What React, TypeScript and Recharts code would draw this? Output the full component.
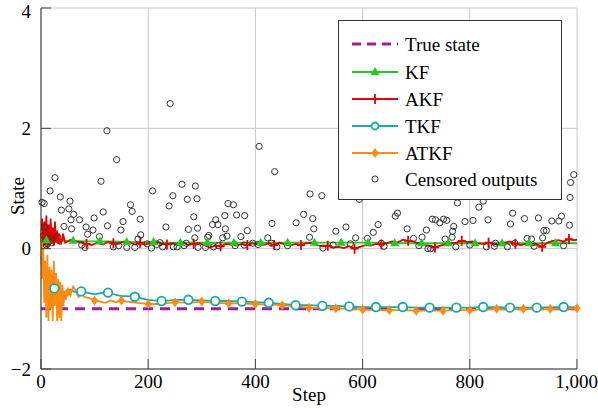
import { ComposedChart, Line, Scatter, XAxis, YAxis, CartesianGrid } from 'recharts'

const xTicks = [0, 200, 400, 600, 800, 1000]
const yTicks = [-2, 0, 2, 4]

const trueSteps = [0, 1000]
const trueValues = [-1, -1]

const kfSteps = [
  0, 2, 4, 6, 8, 10, 13, 16, 20, 25, 30, 35, 45,
  60, 85, 110, 135, 160, 185, 210, 235, 260, 285,
  310, 335, 360, 385, 410, 435, 460, 485, 510, 535,
  560, 585, 610, 635, 660, 685, 710, 735, 760, 785,
  810, 835, 860, 885, 910, 935, 960, 985, 1000,
]
const kfValues = [
  0.28, 0.05, 0.25, 0.1, 0.2, 0.14, 0.18, 0.12, 0.16, 0.13, 0.15, 0.13, 0.13,
  0.13, 0.12, 0.12, 0.12, 0.11, 0.11, 0.11, 0.1, 0.1, 0.1,
  0.1, 0.1, 0.1, 0.1, 0.1, 0.1, 0.1, 0.1, 0.1, 0.1,
  0.1, 0.1, 0.1, 0.1, 0.09, 0.09, 0.09, 0.09, 0.09, 0.09,
  0.09, 0.09, 0.09, 0.09, 0.09, 0.09, 0.09, 0.09, 0.09,
]

const akfSteps = [
  0, 2, 4, 6, 8, 10, 12, 14, 16, 18, 20, 22, 24, 26, 28, 30, 32, 34, 35, 38, 41, 45, 50,
  55, 65, 75, 85, 95, 105, 115, 125, 135, 145,
  155, 165, 175, 185, 195, 205, 215, 225, 235, 245,
  255, 265, 275, 285, 295, 305, 315, 325, 335, 345,
  355, 365, 375, 385, 395, 405, 415, 425, 435, 445,
  455, 465, 475, 485, 495, 505, 515, 525, 535, 545,
  555, 565, 575, 585, 595, 605, 615, 625, 635, 645,
  655, 665, 675, 685, 695, 705, 715, 725, 735, 745,
  755, 765, 775, 785, 795, 805, 815, 825, 835, 845,
  855, 865, 875, 885, 895, 905, 915, 925, 935, 945,
  955, 965, 975, 985, 995, 1000,
]
const akfValues = [
  0.1, 0.5, 0.0, 0.45, 0.05, 0.55, 0.0, 0.4, 0.05, 0.5, 0.08, 0.35, 0.05, 0.45, 0.1, 0.3, 0.08, 0.25, 0.15, 0.1, 0.25, 0.1, 0.12,
  0.15, 0.12, 0.1, 0.08, 0.06, 0.1, 0.07, 0.11, 0.09, 0.08,
  0.12, 0.11, 0.07, 0.09, 0.07, 0.1, 0.12, 0.08, 0.07, 0.09,
  0.06, 0.1, 0.06, 0.08, 0.09, 0.06, 0.02, 0.05, 0.04, 0.08,
  0.07, 0.05, 0.08, 0.06, 0.09, 0.07, 0.06, 0.09, 0.06, 0.1,
  0.07, 0.05, 0.08, 0.06, 0.09, 0.1, 0.06, 0.04, 0.05, 0.02,
  0.03, 0.01, 0.04, 0.0, 0.03, 0.06, 0.05, 0.08, 0.07, 0.09,
  0.12, 0.1, 0.15, 0.13, 0.12, 0.08, 0.06, 0.05, 0.02, 0.05,
  0.07, 0.09, 0.1, 0.13, 0.11, 0.12, 0.09, 0.08, 0.1, 0.07,
  0.08, 0.1, 0.12, 0.08, 0.06, 0.08, 0.05, 0.07, 0.03, 0.1,
  0.13, 0.14, 0.12, 0.16, 0.14, 0.15,
]

const tkfSteps = [
  0, 2, 4, 6, 8, 10, 13, 16, 20, 25,
  30, 35, 40, 45, 50, 55, 60, 65, 75, 90,
  100, 110, 125, 140, 150, 160, 175, 190, 200, 210,
  225, 240, 250,
  275, 300, 325, 350, 375, 400, 425, 450, 475, 500,
  525, 550, 575, 600, 625, 650, 675, 700, 725, 750,
  775, 800, 825, 850, 875, 900, 925, 950, 975, 1000,
]
const tkfValues = [
  -0.12, -0.3, -0.42, -0.48, -0.52, -0.55, -0.58, -0.6, -0.62, -0.66,
  -0.67, -0.7, -0.73, -0.72, -0.69, -0.68, -0.71, -0.72, -0.71, -0.74,
  -0.76, -0.74, -0.73, -0.77, -0.79, -0.79, -0.8, -0.83, -0.85, -0.86,
  -0.87, -0.86, -0.85,
  -0.85, -0.86, -0.87, -0.87, -0.88, -0.89, -0.9, -0.92, -0.94, -0.94,
  -0.95, -0.95, -0.96, -0.97, -0.97, -0.97, -0.97, -0.98, -0.98, -0.98,
  -0.98, -0.98, -0.97, -0.97, -0.98, -0.98, -0.98, -0.97, -0.97, -0.97,
]

const atkfSteps = [
  0, 2, 4, 6, 8, 10, 12, 14, 16, 18, 20, 22, 24, 26, 28, 30, 32, 34, 36, 38, 40, 42, 44, 46,
  50, 55, 60, 65, 70, 75, 80,
  90, 100, 110, 120, 130, 140, 150, 160, 170, 180, 190, 200,
  225, 250, 275, 300, 325, 350, 375, 400, 425, 450,
  475, 500, 525, 550, 575, 600, 625, 650, 675, 700,
  725, 750, 775, 800, 825, 850, 875, 900, 925, 950,
  975, 1000,
]
const atkfValues = [
  0.3, -0.5, 0.1, -0.9, -0.2, -1.15, -0.1, -1.2, -0.3, -1.0, -0.35, -1.2, -0.2, -0.95, -0.4, -1.2, -0.5, -1.15, -0.55, -1.2, -0.6, -0.95, -0.7, -0.85,
  -0.72, -0.78, -0.63, -0.7, -0.8, -0.75, -0.8,
  -0.82, -0.86, -0.88, -0.9, -0.86, -0.89, -0.86, -0.88, -0.89, -0.9, -0.91, -0.92,
  -0.92, -0.89, -0.9, -0.88, -0.9, -0.91, -0.91, -0.92, -0.93, -0.94,
  -0.96, -0.98, -0.99, -0.99, -1.0, -1.01, -1.02, -1.02, -1.02, -1.03,
  -1.03, -1.03, -1.02, -1.02, -1.01, -1.0, -1.01, -1.0, -1.01, -1.0,
  -1.0, -0.99,
]

const outSteps = [
  2, 5, 6, 7, 10, 12, 13, 17, 20, 26,
  29, 36, 38, 43, 52, 54, 56, 57, 61, 72,
  76, 82, 84, 87, 97, 99, 109, 112, 116, 123,
  124, 135, 141, 145, 149, 153, 160, 167, 170, 175,
  181, 185, 186, 198, 206, 208, 216, 222, 227, 233,
  239, 241, 246, 247, 254, 263, 267, 271, 273, 275,
  285, 287, 288, 291, 292, 293, 307, 311, 313, 320,
  322, 326, 330, 331, 339, 343, 344, 347, 349, 359,
  362, 365, 373, 379, 380, 385, 395, 405, 407, 423,
  430, 431, 436, 440, 460, 476, 490, 501, 502, 507,
  509, 524, 526, 545, 550, 569, 577, 587, 594, 609,
  620, 629, 635, 640, 661, 665, 683, 695, 705, 711,
  719, 722, 727, 730, 736, 744, 751, 754, 757, 767,
  768, 770, 774, 777, 791, 800, 806, 817, 825, 831,
  834, 846, 848, 870, 876, 880, 884, 902, 907, 915,
  920, 928, 936, 938, 943, 953, 954, 965, 966, 971,
  975, 986, 988, 987, 994,
]
const outValues = [
  0.77, 0.22, 0.75, 0.36, 0.06, 0.08, 0.17, 0.96, 0.1, 1.18,
  0.2, 0.86, 0.64, 0.37, 0.66, 0.79, 0.48, 0.33, 0.57, 0.48,
  0.06, 0.02, 0.36, 0.24, 0.31, 0.51, 0.2, 1.12, 0.61, 1.96,
  0.38, 0.03, 1.48, 0.05, 0.31, 0.45, 0.02, 0.73, 0.62, 0.02,
  0.16, 0.49, 0.23, 0.08, 0.01, 0.96, 0.07, 0.1, 0.03, 0.36,
  0.71, 2.41, 0.88, 0.03, 0.03, 1.07, 0.05, 0.09, 0.82, 0.32,
  0.53, 0.18, 1.04, 0.83, 0.34, 0.02, 0.02, 0.19, 0.22, 0.4,
  0.03, 0.48, 0.4, 0.05, 0.18, 0.55, 0.33, 0.21, 0.75, 0.73,
  0.05, 0.56, 0.2, 0.06, 0.55, 0.3, 0.09, 0.07, 1.7, 0.18,
  0.09, 0.42, 1.28, 0.03, 0.05, 0.43, 0.57, 0.19, 0.91, 0.5,
  0.33, 0.88, 0.01, 0.06, 0.29, 0.36, 0.08, 0.18, 0.82, 0.17,
  0.27, 0.4, 0.09, 0.04, 0.54, 0.59, 0.33, 0.17, 0.05, 0.19,
  0.31, 0.0, 0.0, 0.49, 0.48, 0.43, 0.49, 0.16, 0.47, 0.19,
  0.29, 0.37, 0.03, 0.76, 0.45, 0.06, 0.47, 0.69, 0.79, 0.03,
  0.48, 0.04, 0.09, 0.03, 0.41, 0.59, 0.09, 0.5, 0.17, 0.16,
  0.04, 0.51, 0.18, 0.3, 0.3, 0.46, 0.9, 0.99, 0.46, 0.54,
  0.05, 0.39, 1.1, 0.85, 1.23,
]

const toPoints = (xs: number[], ys: number[]) => xs.map((x, i) => ({ x, y: ys[i] }))

const PURPLE = '#a01ca0'
const GREEN = '#1fcc1f'
const RED = '#e60000'
const TEAL = '#17aaa8'
const ORANGE = '#ff8a10'
const FONT = '"Liberation Serif", "Times New Roman", serif'

const triangle = (cx: number, cy: number) => (
  <polygon points={`${cx},${cy - 5} ${cx - 4.5},${cy + 3} ${cx + 4.5},${cy + 3}`} fill={GREEN} />
)
const plus = (cx: number, cy: number) => (
  <path d={`M${cx - 4},${cy}H${cx + 4}M${cx},${cy - 5}V${cy + 5}`} stroke={RED} strokeWidth={1.8} fill="none" />
)
const ring = (cx: number, cy: number) => (
  <circle cx={cx} cy={cy} r={4.3} stroke={TEAL} strokeWidth={1.8} fill="#fff" />
)
const diamond = (cx: number, cy: number) => (
  <path d={`M${cx},${cy - 5}L${cx + 3.5},${cy}L${cx},${cy + 5}L${cx - 3.5},${cy}Z`} fill={ORANGE} />
)

// only every 50th step carries a mark, each series with its own phase
const markEvery = (phase: number, draw: (cx: number, cy: number) => any) => (props: any) => {
  const { cx, cy, payload, index } = props
  const step = payload?.x ?? -1
  if (cx == null || cy == null || step < 1 || (step - phase) % 50 !== 0) return <g key={`m${index}`} />
  return <g key={`m${index}`}>{draw(cx, cy)}</g>
}

const openCircle = (props: any) => (
  <circle cx={props.cx} cy={props.cy} r={3.1} fill="none" stroke="#333" strokeWidth={1} />
)

const legendRows = [
  { label: 'True state', kind: 'dash' },
  { label: 'KF', kind: 'kf' },
  { label: 'AKF', kind: 'akf' },
  { label: 'TKF', kind: 'tkf' },
  { label: 'ATKF', kind: 'atkf' },
  { label: 'Censored outputs', kind: 'out' },
]

function LegendBox() {
  const rowY = [24, 52, 79, 106, 133, 159]
  return (
    <svg width={224} height={180} style={{ position: 'absolute', left: 338, top: 20 }}>
      <rect x={0.5} y={0.5} width={223} height={179} fill="#fff" stroke="#333" strokeWidth={1} />
      {legendRows.map((r, i) => {
        const y = rowY[i]
        let sample: any = null
        if (r.kind === 'dash') sample = <line x1={14} x2={60} y1={y} y2={y} stroke={PURPLE} strokeWidth={3} strokeDasharray="9 6" />
        if (r.kind === 'kf') sample = <g><line x1={14} x2={60} y1={y} y2={y} stroke={GREEN} strokeWidth={2} />{triangle(37, y)}</g>
        if (r.kind === 'akf') sample = <g><line x1={14} x2={60} y1={y} y2={y} stroke={RED} strokeWidth={2} />{plus(37, y)}</g>
        if (r.kind === 'tkf') sample = <g><line x1={14} x2={60} y1={y} y2={y} stroke={TEAL} strokeWidth={2} /><circle cx={37} cy={y} r={3.5} stroke={TEAL} strokeWidth={1.8} fill="#fff" /></g>
        if (r.kind === 'atkf') sample = <g><line x1={14} x2={60} y1={y} y2={y} stroke={ORANGE} strokeWidth={2} />{diamond(37, y)}</g>
        if (r.kind === 'out') sample = <circle cx={37} cy={y} r={3.1} fill="none" stroke="#333" strokeWidth={1} />
        return (
          <g key={r.label}>
            {sample}
            <text x={67} y={y} dy="0.35em" fontSize={19} style={{ fontFamily: FONT }} fill="#000">{r.label}</text>
          </g>
        )
      })}
    </svg>
  )
}

const fmtX = (v: number) => v.toLocaleString('en-US')
const fmtY = (v: number) => (v < 0 ? `\u2212${Math.abs(v)}` : `${v}`)

export default function App() {
  const tickStyle = { fill: '#000', fontSize: 19, style: { fontFamily: FONT } }
  return (
    <div style={{ position: 'absolute', left: 0, top: 0, width: 598, height: 409, background: '#fff', fontFamily: FONT }}>
      <ComposedChart width={598} height={409} margin={{ top: 8, right: 21, bottom: 0, left: 0 }} style={{ fontFamily: FONT }}>
        <CartesianGrid stroke="#c8c8c8" strokeWidth={1} />
        <XAxis
          dataKey="x"
          type="number"
          domain={[0, 1000]}
          ticks={xTicks}
          tickFormatter={fmtX}
          height={40}
          tickSize={-10}
          tickMargin={16}
          tickLine={{ stroke: '#444' }}
          axisLine={{ stroke: '#333' }}
          tick={tickStyle}
          label={{ content: () => <text x={309} y={401} textAnchor="middle" fontSize={19} style={{ fontFamily: FONT }} fill="#000">Step</text> }}
        />
        <XAxis
          xAxisId="top"
          orientation="top"
          type="number"
          domain={[0, 1000]}
          ticks={xTicks}
          tickFormatter={() => ''}
          height={0}
          mirror
          tickSize={10}
          tickLine={{ stroke: '#444' }}
          axisLine={{ stroke: '#333' }}
        />
        <YAxis
          dataKey="y"
          type="number"
          domain={[-2, 4]}
          ticks={yTicks}
          tickFormatter={fmtY}
          width={41}
          tickSize={-10}
          tickMargin={20}
          tickLine={{ stroke: '#444' }}
          axisLine={{ stroke: '#333' }}
          tick={tickStyle}
          label={{ content: () => <text x={17} y={196} transform="rotate(-90 17 196)" textAnchor="middle" dominantBaseline="central" fontSize={19} style={{ fontFamily: FONT }} fill="#000">State</text> }}
        />
        <YAxis
          yAxisId="right"
          orientation="right"
          type="number"
          domain={[-2, 4]}
          ticks={yTicks}
          tickFormatter={() => ''}
          width={0}
          mirror
          tickSize={10}
          tickLine={{ stroke: '#444' }}
          axisLine={{ stroke: '#333' }}
        />
        <Scatter name="Censored outputs" data={toPoints(outSteps, outValues)} shape={openCircle} isAnimationActive={false} />
        <Line data={toPoints(trueSteps, trueValues)} dataKey="y" stroke={PURPLE} strokeWidth={3} strokeDasharray="10 7" dot={false} activeDot={false} isAnimationActive={false} />
        <Line data={toPoints(kfSteps, kfValues)} dataKey="y" type="linear" stroke={GREEN} strokeWidth={1.8} dot={markEvery(10, triangle)} activeDot={false} isAnimationActive={false} />
        <Line data={toPoints(akfSteps, akfValues)} dataKey="y" type="linear" stroke={RED} strokeWidth={1.8} dot={markEvery(35, plus)} activeDot={false} isAnimationActive={false} />
        <Line data={toPoints(tkfSteps, tkfValues)} dataKey="y" type="linear" stroke={TEAL} strokeWidth={1.8} dot={markEvery(25, ring)} activeDot={false} isAnimationActive={false} />
        <Line data={toPoints(atkfSteps, atkfValues)} dataKey="y" type="linear" stroke={ORANGE} strokeWidth={1.8} dot={markEvery(0, diamond)} activeDot={false} isAnimationActive={false} />
      </ComposedChart>
      <LegendBox />
    </div>
  )
}
